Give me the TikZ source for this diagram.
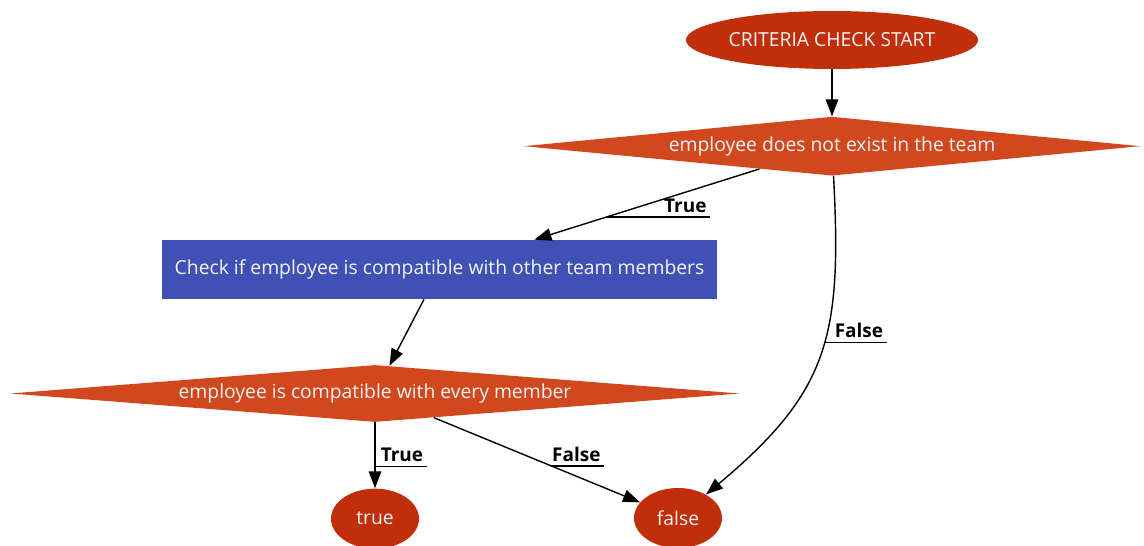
\documentclass[tikz,border=0pt]{standalone}
\usepackage{fontspec}
\setmainfont{Open Sans}
\usetikzlibrary{arrows.meta, positioning, calc, shapes.geometric}

\definecolor{termred}{RGB}{193,47,10}
\definecolor{testorange}{RGB}{209,72,30}
\definecolor{stepblue}{RGB}{63,81,181}

\begin{document}
\begin{tikzpicture}[
        x=0.02cm, y=0.02cm,
        node distance=0.94cm,
        block/.style={
            text=white!96!black,
            inner sep=0pt,
            align=center,
            font=\fontsize{11}{13}\selectfont
        },
        terminal/.style={block, ellipse, fill=termred},
        decision/.style={block, diamond, fill=testorange},
        action/.style={block, rectangle, fill=stepblue,
            minimum width=11.1cm, minimum height=1.18cm},
        arrow/.style={-{Triangle[length=3.4mm, width=2.5mm]}, line width=0.8pt},
        lbl/.style={font=\bfseries\fontsize{10.8}{13}\selectfont,
            inner xsep=2pt, inner ysep=2.5pt, anchor=south east}
    ]

        \useasboundingbox (0,0) rectangle (1144,-546);

        % Noeuds
        \node[terminal, minimum width=5.76cm, minimum height=1.16cm]
            (start) at (832,-40) {CRITERIA CHECK START};

        \node[decision, shape aspect=10.5, minimum width=12.34cm,
            minimum height=1.18cm, below=0.94cm of start]
            (exists) {employee does not exist in the team};

        \node[action] (check) at (439.5,-269.5)
            {Check if employee is compatible with other team members};

        \node[decision, shape aspect=12.8, minimum width=14.6cm,
            minimum height=1.14cm]
            (compat) at (375,-393.5) {employee is compatible with every member};

        \node[terminal, minimum width=1.76cm, minimum height=1.2cm,
            below=1.32cm of compat] (resTrue) {true};

        \node[terminal, minimum width=1.76cm, minimum height=1.2cm]
            (resFalse) at (678,-518) {false};

        % Liaisons
        \draw[arrow] (start) -- (exists);
        \draw[arrow] (exists) -- coordinate[pos=0.68] (tA) (check);
        \draw[arrow] (exists) to[out=-87, in=40, looseness=1.2]
            coordinate[pos=0.45] (fA) (resFalse);
        \draw[arrow] (check) -- (compat);
        \draw[arrow] (compat) -- coordinate[pos=0.667] (tB) (resTrue);
        \draw[arrow] (compat) -- coordinate[pos=0.57] (fB) (resFalse);

        % Etiquettes soulignees
        \node[lbl] (lblTA) at ($(tA)+(104,0)$) {True};
        \draw[line width=0.8pt] (tA) -- (lblTA.south east);

        \node[lbl] (lblFA) at ($(fA)+(63,0)$) {False};
        \draw[line width=0.8pt] (fA) -- (lblFA.south east);

        \node[lbl] (lblTB) at ($(tB)+(52,0)$) {True};
        \draw[line width=0.8pt] (tB) -- (lblTB.south east);

        \node[lbl] (lblFB) at ($(fB)+(53,0)$) {False};
        \draw[line width=0.8pt] (fB) -- (lblFB.south east);

    \end{tikzpicture}
\end{document}
